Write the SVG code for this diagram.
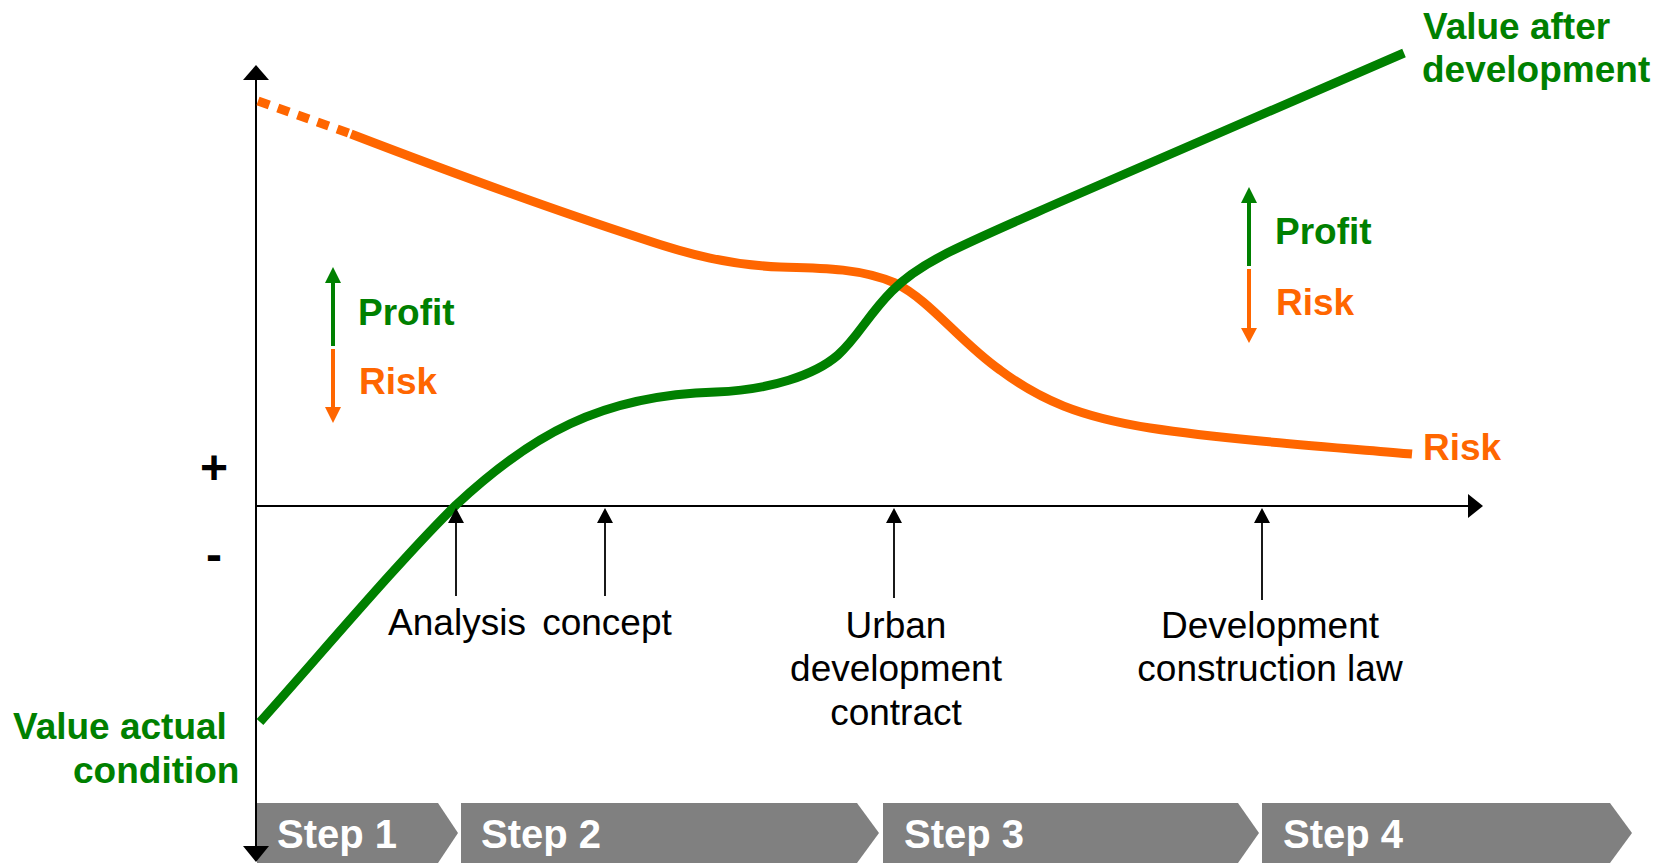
<svg xmlns="http://www.w3.org/2000/svg" width="1659" height="863" viewBox="0 0 1659 863">
<style>
.ax{stroke:#000;stroke-width:2;fill:none}
.tk{stroke:#000;stroke-width:1.8;fill:none}
.g{stroke:#008000;fill:none;stroke-width:9}
.o{stroke:#FF6600;fill:none;stroke-width:9}
.gs{stroke:#008000;stroke-width:4}
.os{stroke:#FF6600;stroke-width:4}
.b{font-family:"Liberation Sans",Arial,sans-serif;font-weight:bold;font-size:37px}
.pm{font-family:"Liberation Sans",Arial,sans-serif;font-weight:bold;font-size:48px;fill:#000}
.r{font-family:"Liberation Sans",Arial,sans-serif;font-size:37px;fill:#000}
.gt{fill:#008000}
.ot{fill:#FF6600}
.step{fill:#808080}
.st{font-family:"Liberation Sans",Arial,sans-serif;font-weight:bold;font-size:40px;fill:#fff}
</style>
<rect width="1659" height="863" fill="#fff"/>
<g id="steps">
<g id="step1"><polygon class="step" points="257,803 438,803 458,833 438,863 257,863"/><text class="st" x="277" y="848">Step 1</text></g>
<g id="step2"><polygon class="step" points="461,803 857,803 879,833 857,863 461,863"/><text class="st" x="481" y="848">Step 2</text></g>
<g id="step3"><polygon class="step" points="883,803 1238,803 1259,833 1238,863 883,863"/><text class="st" x="904" y="848">Step 3</text></g>
<g id="step4"><polygon class="step" points="1262,803 1610,803 1632,833 1610,863 1262,863"/><text class="st" x="1283" y="848">Step 4</text></g>
</g>
<g id="axes">
<line class="ax" x1="256" y1="78" x2="256" y2="848"/>
<polygon points="256,65 243,80 269,80"/>
<polygon points="256,862 243,846 269,846"/>
<line class="ax" x1="256" y1="506" x2="1470" y2="506"/>
<polygon points="1483,506 1468,494 1468,518"/>
<text class="pm" x="214" y="484" text-anchor="middle">+</text>
<text class="pm" x="214" y="571" text-anchor="middle">-</text>
</g>
<g id="curves">
<path class="o" d="M258,101 L351,134" stroke-dasharray="12,9"/>
<path class="o" d="M351,134 C450,172 560,212 640,238 C690,255 730,265 780,267 C820,268 860,268 895,283 C930,300 960,342 1000,370 C1040,400 1080,417 1150,428 C1230,440 1330,447 1412,454"/>
<path class="g" d="M260,722 C320,655 400,560 456,505 C530,436 600,395 716,392 C770,390 815,375 838,355 C858,337 868,315 892,291 C920,262 960,246 1060,202 L1404,53"/>
</g>
<g id="milestones">
<g id="m-analysis"><line class="tk" x1="456" y1="520" x2="456" y2="596"/><polygon points="456,508 448,523 464,523"/><text class="r" x="457" y="635" text-anchor="middle">Analysis</text></g>
<g id="m-concept"><line class="tk" x1="605" y1="520" x2="605" y2="596"/><polygon points="605,508 597,523 613,523"/><text class="r" x="607" y="635" text-anchor="middle">concept</text></g>
<g id="m-urban"><line class="tk" x1="894" y1="520" x2="894" y2="598"/><polygon points="894,508 886,523 902,523"/><text class="r" x="896" y="638" text-anchor="middle">Urban</text><text class="r" x="896" y="681" text-anchor="middle">development</text><text class="r" x="896" y="725" text-anchor="middle">contract</text></g>
<g id="m-dev"><line class="tk" x1="1262" y1="520" x2="1262" y2="600"/><polygon points="1262,508 1254,523 1270,523"/><text class="r" x="1270" y="638" text-anchor="middle">Development</text><text class="r" x="1270" y="681" text-anchor="middle">construction law</text></g>
</g>
<g id="legend-left">
<line class="gs" x1="333" y1="281" x2="333" y2="346"/><polygon fill="#008000" points="333,267 325,283 341,283"/>
<line class="os" x1="333" y1="349" x2="333" y2="409"/><polygon fill="#FF6600" points="325,407 341,407 333,423"/>
<text class="b gt" x="358" y="325">Profit</text>
<text class="b ot" x="359" y="394">Risk</text>
</g>
<g id="legend-right">
<line class="gs" x1="1249" y1="201" x2="1249" y2="266"/><polygon fill="#008000" points="1249,187 1241,203 1257,203"/>
<line class="os" x1="1249" y1="269" x2="1249" y2="330"/><polygon fill="#FF6600" points="1241,328 1257,328 1249,343"/>
<text class="b gt" x="1275" y="244">Profit</text>
<text class="b ot" x="1276" y="315">Risk</text>
</g>
<g id="labels">
<text class="b gt" x="1423" y="39">Value after</text>
<text class="b gt" x="1422" y="82">development</text>
<text class="b ot" x="1423" y="460">Risk</text>
<text class="b gt" x="13" y="739">Value actual</text>
<text class="b gt" x="73" y="783">condition</text>
</g>
</svg>
